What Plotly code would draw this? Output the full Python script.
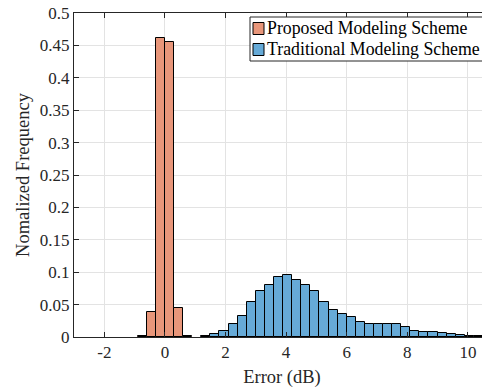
import plotly.graph_objects as go

# ---- data ----
bin_width = 0.3
proposed_centers = [-0.75, -0.45, -0.15, 0.15, 0.45, 0.75]
proposed_freq = [0.0015, 0.039, 0.461, 0.456, 0.044, 0.0015]

traditional_centers = [1.35, 1.65, 1.95, 2.25, 2.55, 2.85, 3.15, 3.45, 3.75, 4.05,
                       4.35, 4.65, 4.95, 5.25, 5.55, 5.85, 6.15, 6.45, 6.75, 7.05,
                       7.35, 7.65, 7.95, 8.25, 8.55, 8.85, 9.15, 9.45, 9.75, 10.05,
                       10.35, 10.65]
traditional_freq = [0.001, 0.0045, 0.010, 0.0195, 0.033, 0.054, 0.071, 0.081, 0.092, 0.096,
                    0.088, 0.081, 0.071, 0.054, 0.042, 0.035, 0.0315, 0.0235, 0.0205, 0.0195,
                    0.020, 0.0195, 0.015, 0.010, 0.008, 0.007, 0.0055, 0.0045, 0.003, 0.0015,
                    0.001, 0.0005]

x_ticks = [-2, 0, 2, 4, 6, 8, 10]
x_tick_labels = ["-2", "0", "2", "4", "6", "8", "10"]
y_ticks = [0, 0.05, 0.1, 0.15, 0.2, 0.25, 0.3, 0.35, 0.4, 0.45, 0.5]
y_tick_labels = ["0", "0.05", "0.1", "0.15", "0.2", "0.25", "0.3", "0.35", "0.4", "0.45", "0.5"]

legend_names = ["Proposed Modeling Scheme", "Traditional Modeling Scheme"]
colors = ["#E8967A", "#66AAD7"]

FONT = "Liberation Serif"
AX = "#262626"
TICKFONT = dict(family=FONT, size=17, color=AX)
TITLEFONT = dict(family=FONT, size=18.5, color=AX)

fig = go.Figure()
fig.add_trace(go.Bar(x=proposed_centers, y=proposed_freq, width=bin_width,
                     marker=dict(color=colors[0], line=dict(color="black", width=1)),
                     name=legend_names[0], showlegend=False))
fig.add_trace(go.Bar(x=traditional_centers, y=traditional_freq, width=bin_width,
                     marker=dict(color=colors[1], line=dict(color="black", width=1)),
                     name=legend_names[1], showlegend=False))

# page body has an 8px margin: figure is drawn at screen offset (8, 8)
OFF = 8
W, H = 490, 392
# desired screen coords of plot area: left 74, right 490, top 13, bottom 337
ML, MT = 74 - OFF, 13 - OFF
MR = W - (490 - OFF)
MB = H - (337 - OFF)
PW, PH = W - ML - MR, H - MT - MB


def px(xs):
    return (xs - OFF - ML) / PW


def py(ys):
    return (H - MB - (ys - OFF)) / PH


shapes = [
    dict(type="rect", xref="paper", yref="paper", x0=px(250), x1=px(487), y0=py(61), y1=py(17),
         line=dict(color=AX, width=1), fillcolor="white", layer="above"),
]
annotations = []
for i, (name, c) in enumerate(zip(legend_names, colors)):
    yc = 28.5 + i * 21
    shapes.append(dict(type="rect", xref="paper", yref="paper", x0=px(253), x1=px(264),
                       y0=py(yc + 6), y1=py(yc - 6), line=dict(color="black", width=1),
                       fillcolor=c, layer="above"))
    annotations.append(dict(xref="paper", yref="paper", x=px(265), y=py(yc), text=name,
                            xanchor="left", yanchor="middle", showarrow=False,
                            font=dict(family=FONT, size=17.8, color="black")))

fig.update_layout(
    width=W, height=H,
    margin=dict(l=ML, r=MR, t=MT, b=MB, autoexpand=False),
    barmode="overlay", bargap=0,
    plot_bgcolor="white", paper_bgcolor="white",
    font=dict(family=FONT, size=17, color=AX),
    shapes=shapes, annotations=annotations,
    xaxis=dict(range=[-3, 10.73], tickvals=x_ticks, ticktext=x_tick_labels,
               tickfont=TICKFONT, automargin=False, ticklabeloverflow="allow",
               showgrid=True, gridcolor="#E3E3E3", gridwidth=1, zeroline=False,
               showline=True, linecolor=AX, linewidth=1, mirror="ticks",
               ticks="inside", ticklen=5, tickcolor=AX,
               title=dict(text="Error (dB)", font=TITLEFONT, standoff=8)),
    yaxis=dict(range=[0, 0.5], tickvals=y_ticks, ticktext=y_tick_labels,
               tickfont=TICKFONT, automargin=False, ticklabeloverflow="allow",
               showgrid=True, gridcolor="#E3E3E3", gridwidth=1, zeroline=False,
               showline=True, linecolor=AX, linewidth=1, mirror="ticks",
               ticks="inside", ticklen=5, tickcolor=AX,
               title=dict(text="Nomalized Frequency", font=TITLEFONT, standoff=5)),
)

fig.write_html("out.html")
